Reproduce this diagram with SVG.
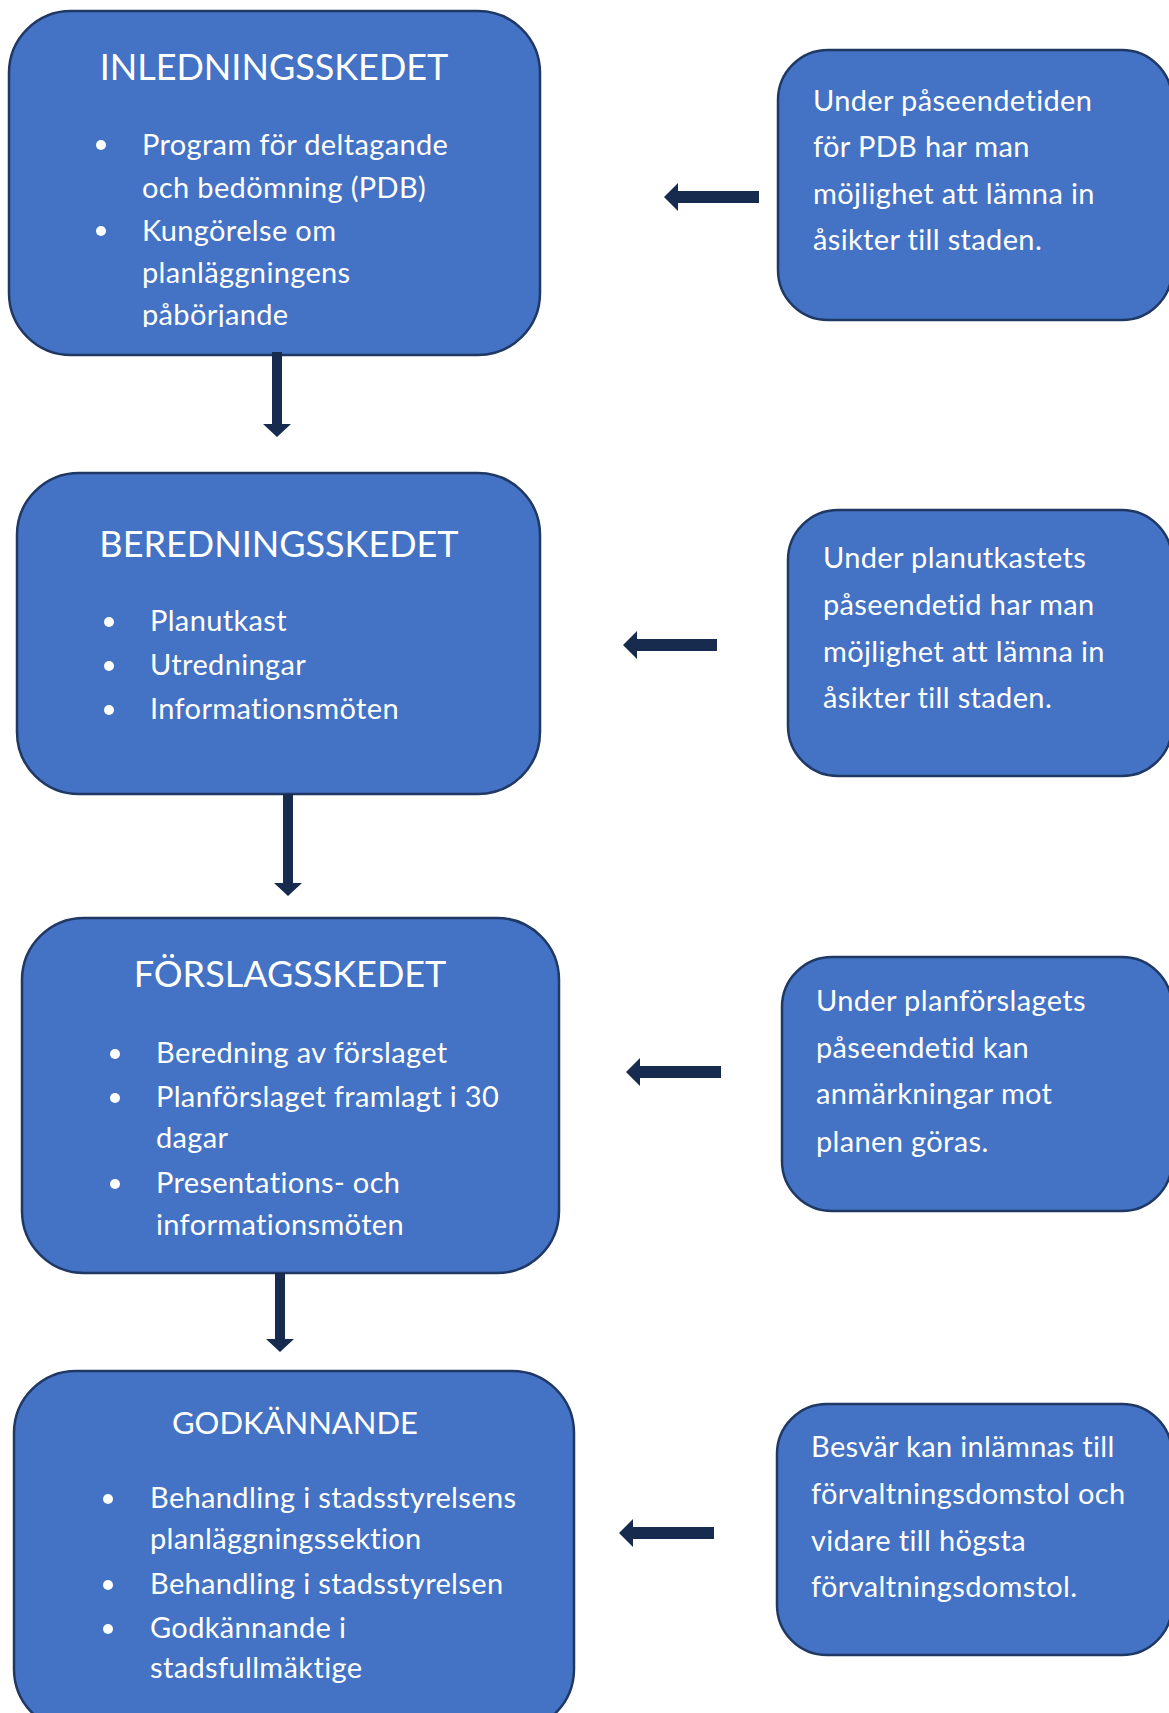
<svg xmlns="http://www.w3.org/2000/svg" width="1169" height="1713" viewBox="0 0 1169 1713">
<style>
.box{fill:#4472C4;stroke:#1F3864;stroke-width:2.5}
.t{font-family:Lato,"Open Sans","Liberation Sans",sans-serif;fill:#ffffff;font-size:29px;letter-spacing:0.35px;font-variant-ligatures:none}
.title{font-size:36px;letter-spacing:0;text-anchor:middle}
.small{font-size:31px}
.dot{fill:#ffffff}
.arr{fill:#172B4F}
</style>
<defs>
<clipPath id="c1"><rect x="0" y="0" width="560" height="327"/></clipPath>
</defs>
<rect width="1169" height="1713" fill="#ffffff"/>
<g id="n1">
<rect class="box" x="9" y="11" width="531" height="344" rx="62"/>
<g clip-path="url(#c1)">
<text class="t title" x="274" y="80">INLEDNINGSSKEDET</text>
<circle class="dot" cx="101" cy="145" r="5"/>
<circle class="dot" cx="101" cy="231" r="5"/>
<text class="t" x="142" y="155">Program för deltagande</text>
<text class="t" x="142" y="198">och bedömning (PDB)</text>
<text class="t" x="142" y="241">Kungörelse om</text>
<text class="t" x="142" y="283">planläggningens</text>
<text class="t" x="142" y="325">påbörjande</text>
</g>
</g>
<g id="n2">
<rect class="box" x="17" y="473" width="523" height="321" rx="62"/>
<text class="t title" x="279" y="557">BEREDNINGSSKEDET</text>
<circle class="dot" cx="109" cy="622" r="5"/>
<circle class="dot" cx="109" cy="666" r="5"/>
<circle class="dot" cx="109" cy="710" r="5"/>
<text class="t" x="150" y="631">Planutkast</text>
<text class="t" x="150" y="675">Utredningar</text>
<text class="t" x="150" y="719">Informationsmöten</text>
</g>
<g id="n3">
<rect class="box" x="22" y="918" width="537" height="355" rx="62"/>
<text class="t title" x="290" y="987">FÖRSLAGSSKEDET</text>
<circle class="dot" cx="115" cy="1054" r="5"/>
<circle class="dot" cx="115" cy="1098" r="5"/>
<circle class="dot" cx="115" cy="1184" r="5"/>
<text class="t" x="156" y="1063">Beredning av förslaget</text>
<text class="t" x="156" y="1107">Planförslaget framlagt i 30</text>
<text class="t" x="156" y="1148">dagar</text>
<text class="t" x="156" y="1193">Presentations- och</text>
<text class="t" x="156" y="1235">informationsmöten</text>
</g>
<g id="n4">
<rect class="box" x="14" y="1371" width="560" height="360" rx="62"/>
<text class="t title small" x="295" y="1434">GODKÄNNANDE</text>
<circle class="dot" cx="108" cy="1499" r="5"/>
<circle class="dot" cx="108" cy="1585" r="5"/>
<circle class="dot" cx="108" cy="1629" r="5"/>
<text class="t" x="150" y="1508">Behandling i stadsstyrelsens</text>
<text class="t" x="150" y="1549">planläggningssektion</text>
<text class="t" x="150" y="1594">Behandling i stadsstyrelsen</text>
<text class="t" x="150" y="1638">Godkännande i</text>
<text class="t" x="150" y="1678">stadsfullmäktige</text>
</g>
<g id="r1">
<rect class="box" x="778" y="50" width="394" height="270" rx="50"/>
<text class="t" x="813" y="111">Under påseendetiden</text>
<text class="t" x="813" y="157">för PDB har man</text>
<text class="t" x="813" y="204">möjlighet att lämna in</text>
<text class="t" x="813" y="250">åsikter till staden.</text>
</g>
<g id="r2">
<rect class="box" x="788" y="510" width="384" height="266" rx="50"/>
<text class="t" x="823" y="568">Under planutkastets</text>
<text class="t" x="823" y="615">påseendetid har man</text>
<text class="t" x="823" y="662">möjlighet att lämna in</text>
<text class="t" x="823" y="708">åsikter till staden.</text>
</g>
<g id="r3">
<rect class="box" x="782" y="957" width="390" height="254" rx="50"/>
<text class="t" x="816" y="1011">Under planförslagets</text>
<text class="t" x="816" y="1058">påseendetid kan</text>
<text class="t" x="816" y="1104">anmärkningar mot</text>
<text class="t" x="816" y="1152">planen göras.</text>
</g>
<g id="r4">
<rect class="box" x="777" y="1404" width="395" height="251" rx="50"/>
<text class="t" x="811" y="1457">Besvär kan inlämnas till</text>
<text class="t" x="811" y="1504">förvaltningsdomstol och</text>
<text class="t" x="811" y="1551">vidare till högsta</text>
<text class="t" x="811" y="1597">förvaltningsdomstol.</text>
</g>
<g id="connectors">
<polygon class="arr" points="272,352 282,352 282,424 291,424 277,437 263,424 272,424"/>
<polygon class="arr" points="283,794 293,794 293,883 302,883 288,896 274,883 283,883"/>
<polygon class="arr" points="275,1273 285,1273 285,1339 294,1339 280,1352 266,1339 275,1339"/>
<polygon class="arr" points="759,191 678,191 678,183 664,197 678,211 678,203 759,203"/>
<polygon class="arr" points="717,639 637,639 637,631 623,645 637,659 637,651 717,651"/>
<polygon class="arr" points="721,1066 640,1066 640,1058 626,1072 640,1086 640,1078 721,1078"/>
<polygon class="arr" points="714,1527 633,1527 633,1519 619,1533 633,1547 633,1539 714,1539"/>
</g>
</svg>
